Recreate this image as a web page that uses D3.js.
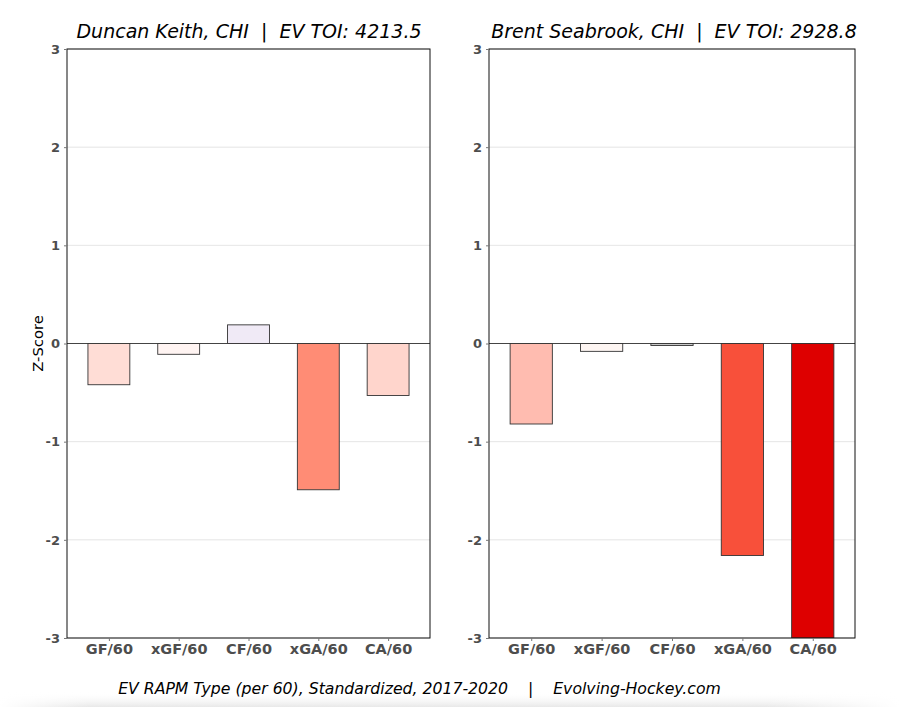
<!DOCTYPE html>
<html><head><meta charset="utf-8">
<script src="https://cdn.jsdelivr.net/npm/d3@7"></script>
<style>body{margin:0;background:#fff;}</style>
</head><body>
<script>
const categories = ["GF/60","xGF/60","CF/60","xGA/60","CA/60"];
const players = ["Duncan Keith, CHI  |  EV TOI: 4213.5", "Brent Seabrook, CHI  |  EV TOI: 2928.8"];
const keithValues = [-0.42, -0.11, 0.19, -1.49, -0.53];
const seabrookValues = [-0.82, -0.08, -0.02, -2.16, -3.0];
const keithColors = ["#ffddd6","#fff4f2","#f0eaf6","#ff8c75","#ffd5cc"];
const seabrookColors = ["#ffbcb0","#fdf5f2","#c8c8c8","#f8503a","#de0000"];
const yTicks = [-3,-2,-1,0,1,2,3];
const footer = "EV RAPM Type (per 60), Standardized, 2017-2020    |    Evolving-Hockey.com";

(function(){
const W=899,H=707;
const svg=d3.select("body").append("svg").attr("width",W).attr("height",H);
const defs=svg.append("defs");
const g=defs.append("linearGradient").attr("id","shade").attr("x1",0).attr("y1",0).attr("x2",0).attr("y2",1);
g.append("stop").attr("offset","0%").attr("stop-color","#fff").attr("stop-opacity",0);
g.append("stop").attr("offset","100%").attr("stop-color","#e8e8e8").attr("stop-opacity",1);
const gx=defs.append("linearGradient").attr("id","shadeX").attr("x1",0).attr("y1",0).attr("x2",1).attr("y2",0);
gx.append("stop").attr("offset","0%").attr("stop-color","#fff").attr("stop-opacity",1);
gx.append("stop").attr("offset","10%").attr("stop-color","#fff").attr("stop-opacity",0);
gx.append("stop").attr("offset","85%").attr("stop-color","#fff").attr("stop-opacity",0);
gx.append("stop").attr("offset","100%").attr("stop-color","#fff").attr("stop-opacity",1);
svg.append("rect").attr("x",0).attr("y",692).attr("width",W).attr("height",15).attr("fill","url(#shade)");
svg.append("rect").attr("x",0).attr("y",692).attr("width",W).attr("height",15).attr("fill","url(#shadeX)");

const font="DejaVu Sans, sans-serif";
const panels=[
 {x0:67,x1:430,values:keithValues,colors:keithColors,title:players[0],ylabel:true,tcx:249},
 {x0:489,x1:855,values:seabrookValues,colors:seabrookColors,title:players[1],ylabel:false,tcx:674}
];
const yTop=49,yBot=638;
panels.forEach(p=>{
  const x=d3.scaleLinear().domain([-0.6,4.6]).range([p.x0,p.x1]);
  const y=d3.scaleLinear().domain([-3,3]).range([yBot,yTop]);
  const G=svg.append("g");
  const clipId="clip"+p.x0;
  defs.append("clipPath").attr("id",clipId).append("rect").attr("x",p.x0).attr("y",yTop).attr("width",p.x1-p.x0).attr("height",yBot-yTop);
  G.selectAll(".grid").data(yTicks.filter(t=>t!==0)).enter().append("line")
    .attr("x1",p.x0).attr("x2",p.x1).attr("y1",d=>y(d)).attr("y2",d=>y(d))
    .attr("stroke","#dedede").attr("stroke-width",0.8);
  G.append("line").attr("x1",p.x0).attr("x2",p.x1).attr("y1",y(0)).attr("y2",y(0)).attr("stroke","#444").attr("stroke-width",1.2);
  const bw=x(0.3)-x(-0.3);
  G.append("g").attr("clip-path",`url(#${clipId})`).selectAll("rect").data(p.values).enter().append("rect")
    .attr("x",(d,i)=>x(i-0.3)).attr("width",bw)
    .attr("y",d=>y(Math.max(0,d))).attr("height",d=>Math.abs(y(d)-y(0)))
    .attr("fill",(d,i)=>p.colors[i]).attr("stroke","#333").attr("stroke-width",0.9);
  G.append("rect").attr("x",p.x0).attr("y",yTop).attr("width",p.x1-p.x0).attr("height",yBot-yTop)
    .attr("fill","none").attr("stroke","#111").attr("stroke-width",1);
  const ya=G.append("g").attr("transform",`translate(${p.x0},0)`).call(d3.axisLeft(y).tickValues(yTicks).tickSize(3).tickPadding(4).tickFormat(d=>String(d)));
  ya.select(".domain").remove();
  ya.selectAll("line").attr("stroke","#777");
  ya.selectAll("text").attr("font-family",font).attr("font-size",13).attr("font-weight","bold").attr("fill","#4d4d4d");
  const xa=G.append("g").attr("transform",`translate(0,${yBot})`).call(d3.axisBottom(x).tickValues(d3.range(categories.length)).tickSize(3).tickPadding(3).tickFormat(i=>categories[i]));
  xa.select(".domain").remove();
  xa.selectAll("line").attr("stroke","#777");
  xa.selectAll("text").attr("font-family",font).attr("font-size",14.5).attr("font-weight","bold").attr("fill","#4d4d4d");
  svg.append("text").attr("x",p.tcx).attr("y",38).attr("text-anchor","middle")
    .attr("font-family",font).attr("font-style","italic").attr("font-size",19).attr("fill","#000").style("white-space","pre").text(p.title);
  if(p.ylabel){
    svg.append("text").attr("transform",`translate(43,${(yTop+yBot)/2}) rotate(-90)`).attr("text-anchor","middle")
      .attr("font-family",font).attr("font-size",14.8).attr("fill","#000").text("Z-Score");
  }
});
svg.append("text").attr("x",419.5).attr("y",694).attr("text-anchor","middle").attr("font-family",font)
  .attr("font-style","italic").attr("font-size",15.7).attr("fill","#000").style("white-space","pre").text(footer);
})();
</script>
</body></html>
